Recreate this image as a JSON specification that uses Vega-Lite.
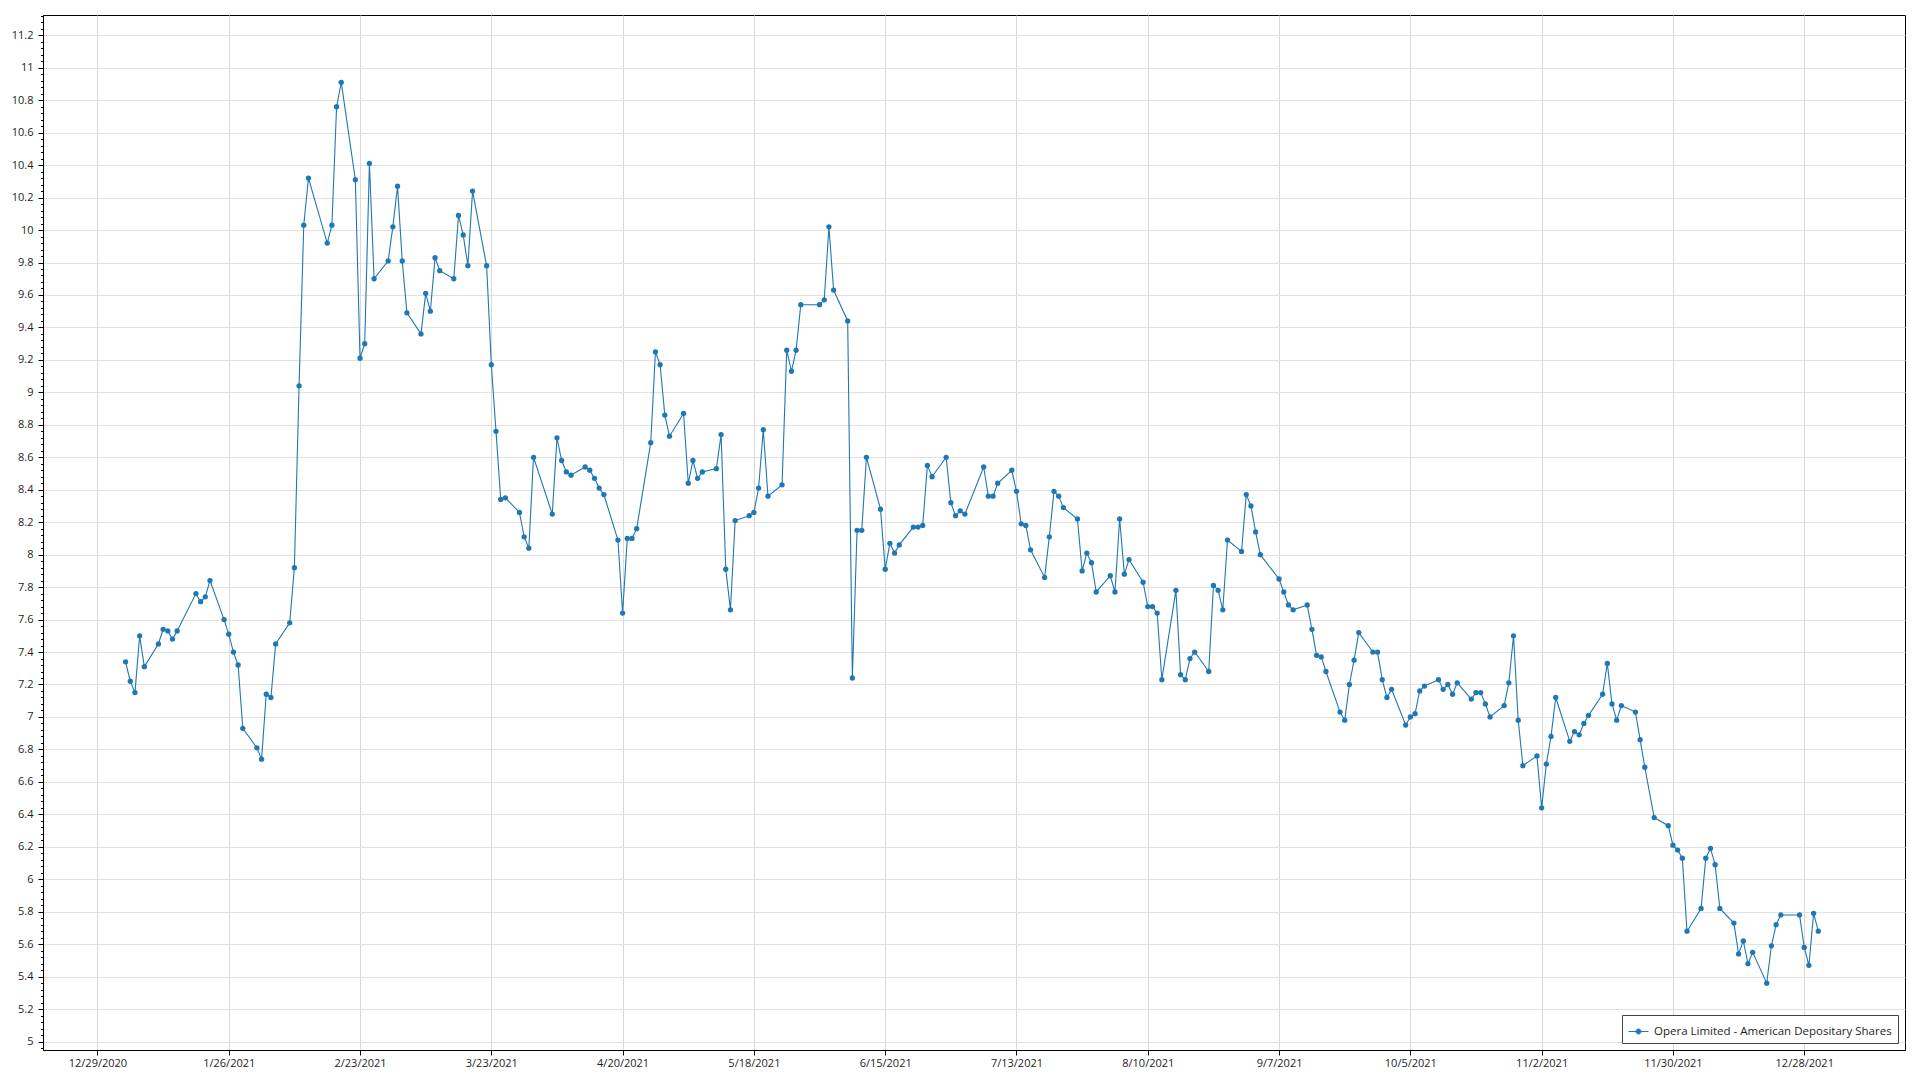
{
  "$schema": "https://vega.github.io/schema/vega-lite/v6.json",
  "width": 1862,
  "height": 1035,
  "autosize": {"type": "none"},
  "padding": {"left": 43, "top": 15, "right": 15, "bottom": 30},
  "background": "white",
  "config": {
    "view": {"stroke": "#000000", "strokeWidth": 1},
    "font": "Open Sans",
    "axis": {"labelFont": "Open Sans", "labelFontSize": 11, "labelColor": "#1e1e1e", "domainColor": "#000000", "tickColor": "#000000", "titleFontSize": 11}
  },
  "data": {
    "values": [
      {"date": "2021-01-04", "close": 7.34}, {"date": "2021-01-05", "close": 7.22}, {"date": "2021-01-06", "close": 7.15}, {"date": "2021-01-07", "close": 7.50}, {"date": "2021-01-08", "close": 7.31},
      {"date": "2021-01-11", "close": 7.45}, {"date": "2021-01-12", "close": 7.54}, {"date": "2021-01-13", "close": 7.53}, {"date": "2021-01-14", "close": 7.48}, {"date": "2021-01-15", "close": 7.53},
      {"date": "2021-01-19", "close": 7.76}, {"date": "2021-01-20", "close": 7.71}, {"date": "2021-01-21", "close": 7.74}, {"date": "2021-01-22", "close": 7.84},
      {"date": "2021-01-25", "close": 7.60}, {"date": "2021-01-26", "close": 7.51}, {"date": "2021-01-27", "close": 7.40}, {"date": "2021-01-28", "close": 7.32}, {"date": "2021-01-29", "close": 6.93},
      {"date": "2021-02-01", "close": 6.81}, {"date": "2021-02-02", "close": 6.74}, {"date": "2021-02-03", "close": 7.14}, {"date": "2021-02-04", "close": 7.12}, {"date": "2021-02-05", "close": 7.45},
      {"date": "2021-02-08", "close": 7.58}, {"date": "2021-02-09", "close": 7.92}, {"date": "2021-02-10", "close": 9.04}, {"date": "2021-02-11", "close": 10.03}, {"date": "2021-02-12", "close": 10.32},
      {"date": "2021-02-16", "close": 9.92}, {"date": "2021-02-17", "close": 10.03}, {"date": "2021-02-18", "close": 10.76}, {"date": "2021-02-19", "close": 10.91},
      {"date": "2021-02-22", "close": 10.31}, {"date": "2021-02-23", "close": 9.21}, {"date": "2021-02-24", "close": 9.30}, {"date": "2021-02-25", "close": 10.41}, {"date": "2021-02-26", "close": 9.70},
      {"date": "2021-03-01", "close": 9.81}, {"date": "2021-03-02", "close": 10.02}, {"date": "2021-03-03", "close": 10.27}, {"date": "2021-03-04", "close": 9.81}, {"date": "2021-03-05", "close": 9.49},
      {"date": "2021-03-08", "close": 9.36}, {"date": "2021-03-09", "close": 9.61}, {"date": "2021-03-10", "close": 9.50}, {"date": "2021-03-11", "close": 9.83}, {"date": "2021-03-12", "close": 9.75},
      {"date": "2021-03-15", "close": 9.70}, {"date": "2021-03-16", "close": 10.09}, {"date": "2021-03-17", "close": 9.97}, {"date": "2021-03-18", "close": 9.78}, {"date": "2021-03-19", "close": 10.24},
      {"date": "2021-03-22", "close": 9.78}, {"date": "2021-03-23", "close": 9.17}, {"date": "2021-03-24", "close": 8.76}, {"date": "2021-03-25", "close": 8.34}, {"date": "2021-03-26", "close": 8.35},
      {"date": "2021-03-29", "close": 8.26}, {"date": "2021-03-30", "close": 8.11}, {"date": "2021-03-31", "close": 8.04}, {"date": "2021-04-01", "close": 8.60},
      {"date": "2021-04-05", "close": 8.25}, {"date": "2021-04-06", "close": 8.72}, {"date": "2021-04-07", "close": 8.58}, {"date": "2021-04-08", "close": 8.51}, {"date": "2021-04-09", "close": 8.49},
      {"date": "2021-04-12", "close": 8.54}, {"date": "2021-04-13", "close": 8.52}, {"date": "2021-04-14", "close": 8.47}, {"date": "2021-04-15", "close": 8.41}, {"date": "2021-04-16", "close": 8.37},
      {"date": "2021-04-19", "close": 8.09}, {"date": "2021-04-20", "close": 7.64}, {"date": "2021-04-21", "close": 8.10}, {"date": "2021-04-22", "close": 8.10}, {"date": "2021-04-23", "close": 8.16},
      {"date": "2021-04-26", "close": 8.69}, {"date": "2021-04-27", "close": 9.25}, {"date": "2021-04-28", "close": 9.17}, {"date": "2021-04-29", "close": 8.86}, {"date": "2021-04-30", "close": 8.73},
      {"date": "2021-05-03", "close": 8.87}, {"date": "2021-05-04", "close": 8.44}, {"date": "2021-05-05", "close": 8.58}, {"date": "2021-05-06", "close": 8.47}, {"date": "2021-05-07", "close": 8.51},
      {"date": "2021-05-10", "close": 8.53}, {"date": "2021-05-11", "close": 8.74}, {"date": "2021-05-12", "close": 7.91}, {"date": "2021-05-13", "close": 7.66}, {"date": "2021-05-14", "close": 8.21},
      {"date": "2021-05-17", "close": 8.24}, {"date": "2021-05-18", "close": 8.26}, {"date": "2021-05-19", "close": 8.41}, {"date": "2021-05-20", "close": 8.77}, {"date": "2021-05-21", "close": 8.36},
      {"date": "2021-05-24", "close": 8.43}, {"date": "2021-05-25", "close": 9.26}, {"date": "2021-05-26", "close": 9.13}, {"date": "2021-05-27", "close": 9.26}, {"date": "2021-05-28", "close": 9.54},
      {"date": "2021-06-01", "close": 9.54}, {"date": "2021-06-02", "close": 9.57}, {"date": "2021-06-03", "close": 10.02}, {"date": "2021-06-04", "close": 9.63},
      {"date": "2021-06-07", "close": 9.44}, {"date": "2021-06-08", "close": 7.24}, {"date": "2021-06-09", "close": 8.15}, {"date": "2021-06-10", "close": 8.15}, {"date": "2021-06-11", "close": 8.60},
      {"date": "2021-06-14", "close": 8.28}, {"date": "2021-06-15", "close": 7.91}, {"date": "2021-06-16", "close": 8.07}, {"date": "2021-06-17", "close": 8.01}, {"date": "2021-06-18", "close": 8.06},
      {"date": "2021-06-21", "close": 8.17}, {"date": "2021-06-22", "close": 8.17}, {"date": "2021-06-23", "close": 8.18}, {"date": "2021-06-24", "close": 8.55}, {"date": "2021-06-25", "close": 8.48},
      {"date": "2021-06-28", "close": 8.60}, {"date": "2021-06-29", "close": 8.32}, {"date": "2021-06-30", "close": 8.24}, {"date": "2021-07-01", "close": 8.27}, {"date": "2021-07-02", "close": 8.25},
      {"date": "2021-07-06", "close": 8.54}, {"date": "2021-07-07", "close": 8.36}, {"date": "2021-07-08", "close": 8.36}, {"date": "2021-07-09", "close": 8.44},
      {"date": "2021-07-12", "close": 8.52}, {"date": "2021-07-13", "close": 8.39}, {"date": "2021-07-14", "close": 8.19}, {"date": "2021-07-15", "close": 8.18}, {"date": "2021-07-16", "close": 8.03},
      {"date": "2021-07-19", "close": 7.86}, {"date": "2021-07-20", "close": 8.11}, {"date": "2021-07-21", "close": 8.39}, {"date": "2021-07-22", "close": 8.36}, {"date": "2021-07-23", "close": 8.29},
      {"date": "2021-07-26", "close": 8.22}, {"date": "2021-07-27", "close": 7.90}, {"date": "2021-07-28", "close": 8.01}, {"date": "2021-07-29", "close": 7.95}, {"date": "2021-07-30", "close": 7.77},
      {"date": "2021-08-02", "close": 7.87}, {"date": "2021-08-03", "close": 7.77}, {"date": "2021-08-04", "close": 8.22}, {"date": "2021-08-05", "close": 7.88}, {"date": "2021-08-06", "close": 7.97},
      {"date": "2021-08-09", "close": 7.83}, {"date": "2021-08-10", "close": 7.68}, {"date": "2021-08-11", "close": 7.68}, {"date": "2021-08-12", "close": 7.64}, {"date": "2021-08-13", "close": 7.23},
      {"date": "2021-08-16", "close": 7.78}, {"date": "2021-08-17", "close": 7.26}, {"date": "2021-08-18", "close": 7.23}, {"date": "2021-08-19", "close": 7.36}, {"date": "2021-08-20", "close": 7.40},
      {"date": "2021-08-23", "close": 7.28}, {"date": "2021-08-24", "close": 7.81}, {"date": "2021-08-25", "close": 7.78}, {"date": "2021-08-26", "close": 7.66}, {"date": "2021-08-27", "close": 8.09},
      {"date": "2021-08-30", "close": 8.02}, {"date": "2021-08-31", "close": 8.37}, {"date": "2021-09-01", "close": 8.30}, {"date": "2021-09-02", "close": 8.14}, {"date": "2021-09-03", "close": 8.00},
      {"date": "2021-09-07", "close": 7.85}, {"date": "2021-09-08", "close": 7.77}, {"date": "2021-09-09", "close": 7.69}, {"date": "2021-09-10", "close": 7.66},
      {"date": "2021-09-13", "close": 7.69}, {"date": "2021-09-14", "close": 7.54}, {"date": "2021-09-15", "close": 7.38}, {"date": "2021-09-16", "close": 7.37}, {"date": "2021-09-17", "close": 7.28},
      {"date": "2021-09-20", "close": 7.03}, {"date": "2021-09-21", "close": 6.98}, {"date": "2021-09-22", "close": 7.20}, {"date": "2021-09-23", "close": 7.35}, {"date": "2021-09-24", "close": 7.52},
      {"date": "2021-09-27", "close": 7.40}, {"date": "2021-09-28", "close": 7.40}, {"date": "2021-09-29", "close": 7.23}, {"date": "2021-09-30", "close": 7.12}, {"date": "2021-10-01", "close": 7.17},
      {"date": "2021-10-04", "close": 6.95}, {"date": "2021-10-05", "close": 7.00}, {"date": "2021-10-06", "close": 7.02}, {"date": "2021-10-07", "close": 7.16}, {"date": "2021-10-08", "close": 7.19},
      {"date": "2021-10-11", "close": 7.23}, {"date": "2021-10-12", "close": 7.17}, {"date": "2021-10-13", "close": 7.20}, {"date": "2021-10-14", "close": 7.14}, {"date": "2021-10-15", "close": 7.21},
      {"date": "2021-10-18", "close": 7.11}, {"date": "2021-10-19", "close": 7.15}, {"date": "2021-10-20", "close": 7.15}, {"date": "2021-10-21", "close": 7.08}, {"date": "2021-10-22", "close": 7.00},
      {"date": "2021-10-25", "close": 7.07}, {"date": "2021-10-26", "close": 7.21}, {"date": "2021-10-27", "close": 7.50}, {"date": "2021-10-28", "close": 6.98}, {"date": "2021-10-29", "close": 6.70},
      {"date": "2021-11-01", "close": 6.76}, {"date": "2021-11-02", "close": 6.44}, {"date": "2021-11-03", "close": 6.71}, {"date": "2021-11-04", "close": 6.88}, {"date": "2021-11-05", "close": 7.12},
      {"date": "2021-11-08", "close": 6.85}, {"date": "2021-11-09", "close": 6.91}, {"date": "2021-11-10", "close": 6.89}, {"date": "2021-11-11", "close": 6.96}, {"date": "2021-11-12", "close": 7.01},
      {"date": "2021-11-15", "close": 7.14}, {"date": "2021-11-16", "close": 7.33}, {"date": "2021-11-17", "close": 7.08}, {"date": "2021-11-18", "close": 6.98}, {"date": "2021-11-19", "close": 7.07},
      {"date": "2021-11-22", "close": 7.03}, {"date": "2021-11-23", "close": 6.86}, {"date": "2021-11-24", "close": 6.69}, {"date": "2021-11-26", "close": 6.38},
      {"date": "2021-11-29", "close": 6.33}, {"date": "2021-11-30", "close": 6.21}, {"date": "2021-12-01", "close": 6.18}, {"date": "2021-12-02", "close": 6.13}, {"date": "2021-12-03", "close": 5.68},
      {"date": "2021-12-06", "close": 5.82}, {"date": "2021-12-07", "close": 6.13}, {"date": "2021-12-08", "close": 6.19}, {"date": "2021-12-09", "close": 6.09}, {"date": "2021-12-10", "close": 5.82},
      {"date": "2021-12-13", "close": 5.73}, {"date": "2021-12-14", "close": 5.54}, {"date": "2021-12-15", "close": 5.62}, {"date": "2021-12-16", "close": 5.48}, {"date": "2021-12-17", "close": 5.55},
      {"date": "2021-12-20", "close": 5.36}, {"date": "2021-12-21", "close": 5.59}, {"date": "2021-12-22", "close": 5.72}, {"date": "2021-12-23", "close": 5.78},
      {"date": "2021-12-27", "close": 5.78}, {"date": "2021-12-28", "close": 5.58}, {"date": "2021-12-29", "close": 5.47}, {"date": "2021-12-30", "close": 5.79}, {"date": "2021-12-31", "close": 5.68}
    ]
  },
  "mark": {"type": "line", "strokeWidth": 1.1, "point": {"filled": true, "size": 28, "opacity": 1}},
  "encoding": {
    "x": {
      "field": "date",
      "type": "temporal",
      "scale": {
        "type": "utc",
        "domain": [
          {"year": 2020, "month": 12, "date": 17, "hours": 9, "minutes": 20, "utc": true},
          {"year": 2022, "month": 1, "date": 18, "hours": 11, "minutes": 45, "utc": true}
        ]
      },
      "axis": {
        "title": null,
        "values": [
          {"year": 2020, "month": 12, "date": 29, "utc": true},
          {"year": 2021, "month": 1, "date": 26, "utc": true},
          {"year": 2021, "month": 2, "date": 23, "utc": true},
          {"year": 2021, "month": 3, "date": 23, "utc": true},
          {"year": 2021, "month": 4, "date": 20, "utc": true},
          {"year": 2021, "month": 5, "date": 18, "utc": true},
          {"year": 2021, "month": 6, "date": 15, "utc": true},
          {"year": 2021, "month": 7, "date": 13, "utc": true},
          {"year": 2021, "month": 8, "date": 10, "utc": true},
          {"year": 2021, "month": 9, "date": 7, "utc": true},
          {"year": 2021, "month": 10, "date": 5, "utc": true},
          {"year": 2021, "month": 11, "date": 2, "utc": true},
          {"year": 2021, "month": 11, "date": 30, "utc": true},
          {"year": 2021, "month": 12, "date": 28, "utc": true}
        ],
        "labelExpr": "utcFormat(datum.value, '%-m/%-d/%Y')",
        "grid": true,
        "gridColor": "#d9d9d9",
        "gridWidth": 1,
        "tickSize": 5,
        "labelPadding": 2,
        "labelFlush": false,
        "labelOverlap": false
      }
    },
    "y": {
      "field": "close",
      "type": "quantitative",
      "scale": {"domain": [4.948, 11.325], "zero": false, "nice": false},
      "axis": {
        "title": null,
        "values": [4.96,
          5, 5.04, 5.08, 5.12, 5.16, 5.2, 5.24, 5.28, 5.32, 5.36, 5.4, 5.44, 5.48, 5.52, 5.56, 5.6, 5.64, 5.68, 5.72, 5.76, 5.8, 5.84, 5.88, 5.92, 5.96,
          6, 6.04, 6.08, 6.12, 6.16, 6.2, 6.24, 6.28, 6.32, 6.36, 6.4, 6.44, 6.48, 6.52, 6.56, 6.6, 6.64, 6.68, 6.72, 6.76, 6.8, 6.84, 6.88, 6.92, 6.96,
          7, 7.04, 7.08, 7.12, 7.16, 7.2, 7.24, 7.28, 7.32, 7.36, 7.4, 7.44, 7.48, 7.52, 7.56, 7.6, 7.64, 7.68, 7.72, 7.76, 7.8, 7.84, 7.88, 7.92, 7.96,
          8, 8.04, 8.08, 8.12, 8.16, 8.2, 8.24, 8.28, 8.32, 8.36, 8.4, 8.44, 8.48, 8.52, 8.56, 8.6, 8.64, 8.68, 8.72, 8.76, 8.8, 8.84, 8.88, 8.92, 8.96,
          9, 9.04, 9.08, 9.12, 9.16, 9.2, 9.24, 9.28, 9.32, 9.36, 9.4, 9.44, 9.48, 9.52, 9.56, 9.6, 9.64, 9.68, 9.72, 9.76, 9.8, 9.84, 9.88, 9.92, 9.96,
          10, 10.04, 10.08, 10.12, 10.16, 10.2, 10.24, 10.28, 10.32, 10.36, 10.4, 10.44, 10.48, 10.52, 10.56, 10.6, 10.64, 10.68, 10.72, 10.76, 10.8, 10.84, 10.88, 10.92, 10.96,
          11, 11.04, 11.08, 11.12, 11.16, 11.2, 11.24, 11.28, 11.32],
        "labelExpr": "abs(datum.value * 5 - round(datum.value * 5)) < 0.01 ? format(datum.value, '.1~f') : ''",
        "labelOverlap": false,
        "labelPadding": 5,
        "tickSize": {"condition": {"test": "abs(datum.value * 5 - round(datum.value * 5)) < 0.01", "value": 5}, "value": 2.5},
        "grid": true,
        "gridColor": "#e1e1e1",
        "gridOpacity": {"condition": {"test": "abs(datum.value * 5 - round(datum.value * 5)) < 0.01", "value": 1}, "value": 0}
      }
    },
    "color": {
      "datum": "Opera Limited - American Depositary Shares",
      "type": "nominal",
      "scale": {"range": ["#1f77b4"]},
      "legend": {
        "title": null,
        "orient": "bottom-right",
        "offset": 7,
        "padding": 6,
        "strokeColor": "#444444",
        "fillColor": "#ffffff",
        "symbolType": "M-1,0L1,0M-0.25,0A0.25,0.25,0,1,0,0.25,0A0.25,0.25,0,1,0,-0.25,0Z",
        "symbolSize": 400,
        "symbolStrokeWidth": 1,
        "symbolFillColor": "#1f77b4",
        "symbolStrokeColor": "#1f77b4",
        "labelFont": "Open Sans",
        "labelFontSize": 11.5,
        "labelLimit": 500,
        "labelColor": "#1e1e1e",
        "labelOffset": 5
      }
    }
  }
}
